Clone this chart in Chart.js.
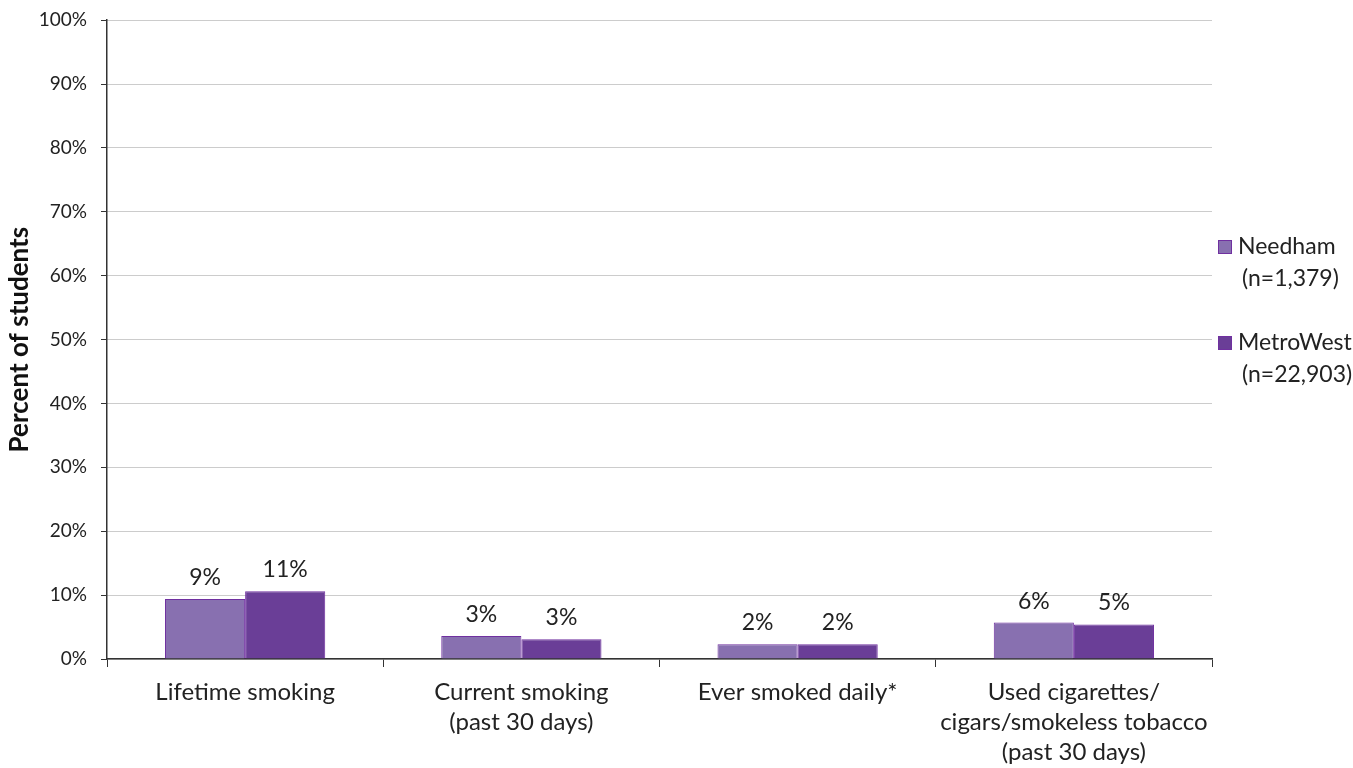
<!DOCTYPE html>
<html>
<head>
<meta charset="utf-8">
<script src="https://cdn.jsdelivr.net/npm/chart.js@4/dist/chart.umd.min.js"></script>
<style>
  html, body { margin: 0; padding: 0; background: #fff; }
  #wrap { width: 1353px; height: 768px; }
</style>
</head>
<body>
<div id="wrap"><canvas id="chart"></canvas></div>
<script>
// values
const categories = [
  ['Lifetime smoking'],
  ['Current smoking', '(past 30 days)'],
  ['Ever smoked daily*'],
  ['Used cigarettes/', 'cigars/smokeless tobacco', '(past 30 days)'],
];
const needham = [9.4, 3.6, 2.3, 5.7];
const metroWest = [10.6, 3.1, 2.3, 5.4];
const needhamLabels = ['9%', '3%', '2%', '6%'];
const metroWestLabels = ['11%', '3%', '2%', '5%'];
const legendLines = [
  ['Needham', '(n=1,379)'],
  ['MetroWest', '(n=22,903)'],
];

const FONT = 'Lato, "Liberation Sans", sans-serif';
const TEXT = '#222';

// value labels above bars + side legend
const decorations = {
  id: 'decorations',
  afterDatasetsDraw(chart) {
    const ctx = chart.ctx;
    ctx.save();
    ctx.fillStyle = TEXT;
    ctx.font = '23px ' + FONT;
    ctx.textAlign = 'center';
    ctx.textBaseline = 'bottom';
    chart.data.datasets.forEach((ds, i) => {
      chart.getDatasetMeta(i).data.forEach((bar, j) => {
        ctx.fillText(ds.valueLabels[j], bar.x, bar.y - 10);
      });
    });

    // legend
    const left = chart.chartArea.right + 6;
    const rows = [247, 343];
    ctx.textAlign = 'left';
    ctx.textBaseline = 'middle';
    ctx.font = '23px ' + FONT;
    chart.data.datasets.forEach((ds, i) => {
      const y = rows[i];
      ctx.fillStyle = ds.backgroundColor;
      ctx.fillRect(left, y - 7, 14, 14);
      ctx.strokeStyle = ds.borderColor;
      ctx.lineWidth = 1;
      ctx.strokeRect(left + 0.5, y - 6.5, 13, 13);
      ctx.fillStyle = TEXT;
      legendLines[i].forEach((line, k) => {
        ctx.fillText(line, k === 0 ? left + 20 : left + 24, y + k * 32);
      });
    });
    ctx.restore();
  },
};

new Chart(document.getElementById('chart'), {
  type: 'bar',
  data: {
    labels: categories,
    datasets: [
      {
        label: 'Needham (n=1,379)',
        data: needham,
        valueLabels: needhamLabels,
        backgroundColor: '#8870b0',
        borderColor: '#7030a0',
        borderWidth: 1,
        categoryPercentage: 0.58,
        barPercentage: 1,
      },
      {
        label: 'MetroWest (n=22,903)',
        data: metroWest,
        valueLabels: metroWestLabels,
        backgroundColor: '#6a3e97',
        borderColor: '#7030a0',
        borderWidth: 1,
        categoryPercentage: 0.58,
        barPercentage: 1,
      },
    ],
  },
  plugins: [decorations],
  options: {
    responsive: true,
    maintainAspectRatio: false,
    animation: false,
    layout: { padding: { top: 3, right: 141, bottom: 0, left: 4 } },
    plugins: {
      legend: { display: false },
      tooltip: { enabled: false },
    },
    scales: {
      x: {
        offset: true,
        afterFit: (scale) => { scale.height = 109; },
        grid: {
          offset: true,
          drawOnChartArea: false,
          drawTicks: true,
          tickLength: 8,
          tickColor: '#333',
        },
        border: { color: '#333', width: 1.5 },
        ticks: {
          color: TEXT,
          font: { family: FONT, size: 24, lineHeight: 1.25 },
          padding: 10,
          maxRotation: 0,
          autoSkip: false,
        },
      },
      y: {
        min: 0,
        max: 100,
        afterFit: (scale) => { scale.width = 103; },
        ticks: {
          stepSize: 10,
          color: TEXT,
          // small lineHeight keeps the top label from pushing the plot down
          font: { family: FONT, size: 19, lineHeight: 0.65 },
          padding: 14,
          callback: (v) => v + '%',
        },
        grid: {
          color: '#999',
          tickColor: '#333',
          tickLength: 6,
          lineWidth: 1,
        },
        // v4 takes grid-line dashes from border.dash; keep the axis line itself solid
        border: {
          color: '#333',
          width: 1.5,
          dash: (c) => (c.type === 'tick' ? [1, 1] : []),
        },
        title: {
          display: true,
          text: 'Percent of students',
          color: '#111',
          font: { family: FONT, size: 26, weight: 'bold' },
          padding: 0,
        },
      },
    },
  },
});
</script>
</body>
</html>
